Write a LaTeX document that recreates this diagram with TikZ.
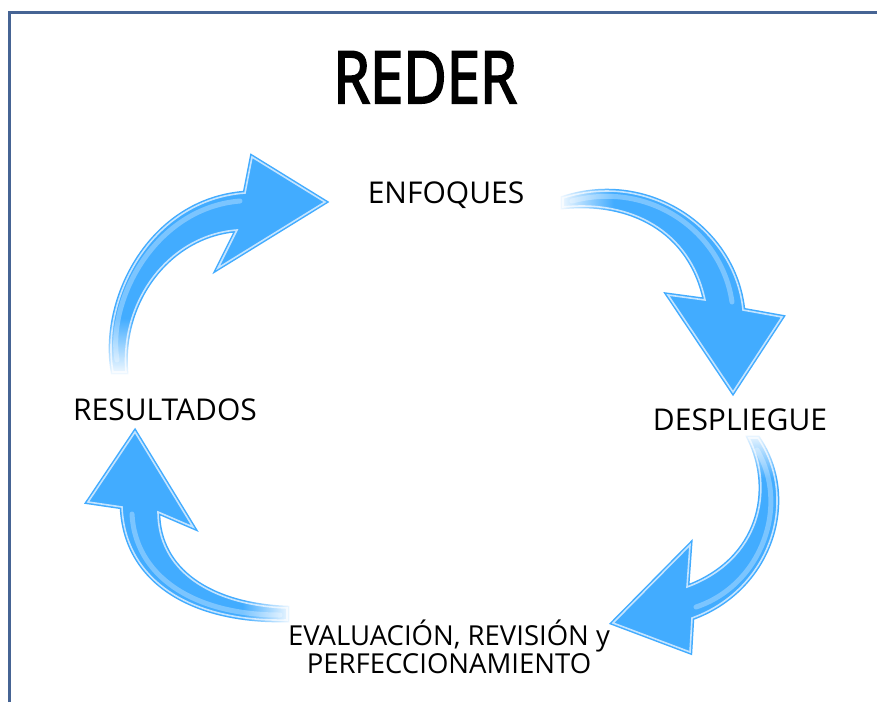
\documentclass[tikz,border=0pt]{standalone}
\usepackage{fontspec}
\setmainfont{Open Sans}
\newfontfamily\titlefont[FakeBold=3]{Open Sans}
\usetikzlibrary{fadings}
\definecolor{arrowblue}{RGB}{66,172,255}
\definecolor{arrowlight}{RGB}{196,228,255}
\definecolor{framecol}{RGB}{70,100,148}
\tikzfading[name=fadebottom, top color=transparent!100, bottom color=transparent!0]
\tikzfading[name=fadetop, top color=transparent!0, bottom color=transparent!100]
\tikzfading[name=fadeleft, left color=transparent!0, right color=transparent!100]
\tikzfading[name=faderight, left color=transparent!100, right color=transparent!0]

\begin{document}
\begin{tikzpicture}[x=1pt, y=-1pt,
    arrowbody/.style={fill=arrowblue, draw=arrowblue, double=arrowlight,
        double distance=1.6pt, line width=1.5pt, line join=miter},
    gloss/.style={white, opacity=0.3, line width=5pt, line cap=round},
    tailfade/.style={fill=white, path fading=#1},
    phase/.style={inner sep=0pt, anchor=base, font=\fontsize{30}{34}\selectfont}]
\useasboundingbox (0,0) rectangle (877,702);
\fill[white] (0,0) rectangle (877,702);

% frame
\draw[framecol, line width=3pt] (9,702) -- (9,12) -- (877,12);

% resultados -> enfoques
\path[arrowbody] (113,372) .. controls (100,300) and (150,200) .. (245,193)
    -- (252,157) -- (325,202) -- (218,268) -- (237,230)
    .. controls (170,235) and (120,300) .. (126,372) -- cycle;
\draw[gloss] (117,360) .. controls (107,300) and (155,208) .. (240,201);
\fill[tailfade=fadebottom] (98,318) rectangle (136,378);

% enfoques -> despliegue
\path[arrowbody] (563,198) .. controls (650,170) and (735,230) .. (743,310)
    -- (782,317) -- (733,392) -- (668,295) -- (705,300)
    .. controls (690,230) and (630,200) .. (563,207) -- cycle;
\draw[gloss] (572,201) .. controls (650,180) and (722,232) .. (732,302);
\fill[tailfade=fadeleft] (556,178) rectangle (614,214);

% despliegue -> evaluacion
\path[arrowbody] (758,438) .. controls (800,500) and (770,590) .. (692,618)
    -- (690,652) -- (613,623) -- (690,545) -- (687,587)
    .. controls (760,560) and (775,490) .. (749,438) -- cycle;
\draw[gloss] (757,450) .. controls (790,505) and (762,585) .. (696,607);
\fill[tailfade=fadetop] (738,430) rectangle (778,478);

% evaluacion -> resultados
\path[arrowbody] (287,620) .. controls (190,622) and (125,580) .. (122,507)
    -- (88,502) -- (135,432) -- (193,527) -- (158,512)
    .. controls (158,570) and (210,605) .. (287,608) -- cycle;
\draw[gloss] (280,615) .. controls (192,615) and (135,575) .. (132,514);
\fill[tailfade=faderight] (242,598) rectangle (294,627);

% titles
\node[inner sep=0pt, anchor=base] (reder) at (425,103)
    {\titlefont\fontsize{72}{80}\selectfont\scalebox{0.83}[1]{REDER}};
\node[phase] (enfoques) at (446,203) {ENFOQUES};
\node[phase] (despliegue) at (740,430) {DESPLIEGUE};
\node[phase] (resultados) at (165,420) {RESULTADOS};
\node[phase, align=center, font=\fontsize{27.5}{28}\selectfont] (evaluacion) at (449,673)
    {EVALUACIÓN, REVISIÓN y\\PERFECCIONAMIENTO};
\end{tikzpicture}
\end{document}
